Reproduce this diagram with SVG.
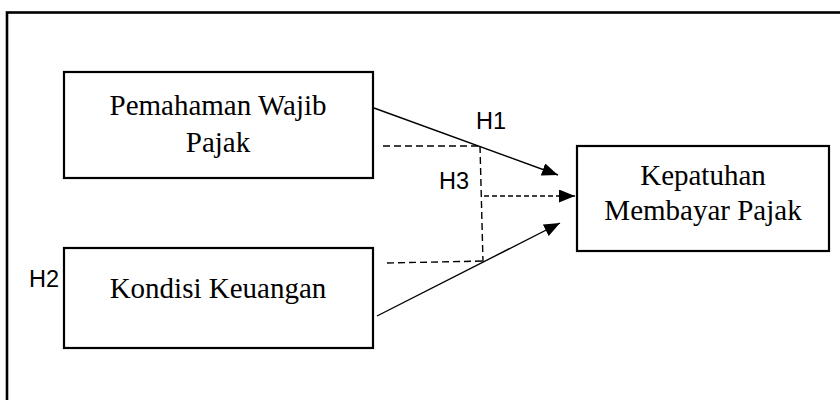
<svg xmlns="http://www.w3.org/2000/svg" width="840" height="400" viewBox="0 0 840 400">
  <style>
    .box { fill: #fff; stroke: #000; stroke-width: 2.2; }
    .lbl { font-family: "Liberation Serif", "Times New Roman", serif; font-size: 29px; fill: #000; text-anchor: middle; }
    .h { font-family: "Liberation Sans", Arial, sans-serif; font-size: 23.5px; fill: #000; }
    .solid { stroke: #000; stroke-width: 1.4; fill: none; }
    .dash { stroke: #000; stroke-width: 1.4; fill: none; stroke-dasharray: 7 4; }
    .dash2 { stroke: #000; stroke-width: 1.4; fill: none; stroke-dasharray: 5 3; }
  </style>
  <defs>
    <marker id="arrow" viewBox="0 0 16 13" refX="16" refY="6.5" markerWidth="16" markerHeight="13" markerUnits="userSpaceOnUse" orient="auto">
      <path d="M0,0 L16,6.5 L0,13 Z" fill="#000"/>
    </marker>
  </defs>
  <rect width="840" height="400" fill="#fff"/>
  <!-- outer frame -->
  <rect x="7" y="12.5" width="860" height="420" fill="none" stroke="#000" stroke-width="2.6"/>

  <g id="node-pemahaman">
    <rect class="box" x="64" y="72" width="309" height="106"/>
    <text class="lbl" x="218" y="115">Pemahaman Wajib</text>
    <text class="lbl" x="218" y="152">Pajak</text>
  </g>
  <g id="node-kondisi">
    <rect class="box" x="64" y="248" width="309" height="100"/>
    <text class="lbl" x="218" y="298">Kondisi Keuangan</text>
  </g>
  <g id="node-kepatuhan">
    <rect class="box" x="577" y="146" width="252" height="105"/>
    <text class="lbl" x="703" y="185">Kepatuhan</text>
    <text class="lbl" x="703" y="220">Membayar Pajak</text>
  </g>

  <g id="connectors">
    <line class="solid" x1="374" y1="108" x2="558" y2="175" marker-end="url(#arrow)"/>
    <line class="solid" x1="377" y1="316" x2="560" y2="223" marker-end="url(#arrow)"/>
    <line class="dash" x1="383" y1="146" x2="480" y2="146"/>
    <line class="dash" x1="480" y1="146" x2="483" y2="262"/>
    <line class="dash" x1="387" y1="263" x2="485" y2="261"/>
    <line class="dash2" x1="484" y1="196" x2="575" y2="196" marker-end="url(#arrow)"/>
  </g>

  <g id="labels">
    <text class="h" x="476" y="129">H1</text>
    <text class="h" x="439" y="189">H3</text>
    <text class="h" x="29" y="287">H2</text>
  </g>
</svg>
